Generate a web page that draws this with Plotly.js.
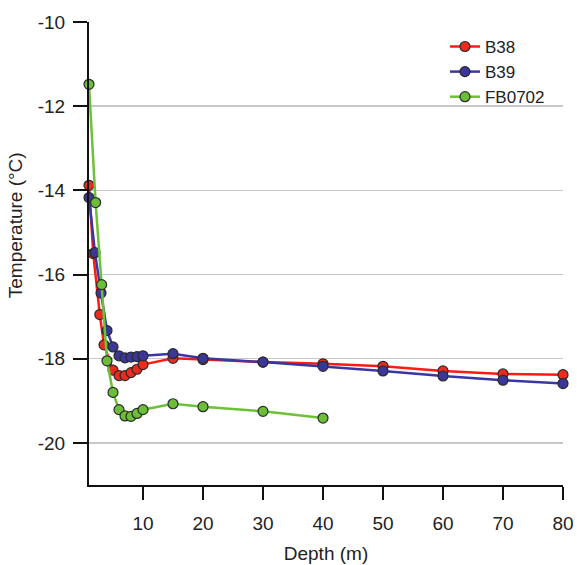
<!DOCTYPE html>
<html>
<head>
<meta charset="utf-8">
<script src="https://cdn.plot.ly/plotly-3.0.1.min.js"></script>
<style>html,body{margin:0;padding:0;background:#fff;}#chart{width:577px;height:565px;}</style>
</head>
<body>
<div id="chart"></div>
<script>
// Data
const depthB38 = [1, 1.7, 2.8, 3.5, 5, 6, 7, 8, 9, 10, 15, 20, 30, 40, 50, 60, 70, 80];
const tempB38  = [-13.88, -15.5, -16.95, -17.67, -18.27, -18.4, -18.4, -18.33, -18.25, -18.14, -17.99, -18.02, -18.08, -18.12, -18.18, -18.29, -18.36, -18.38];

const depthB39 = [1, 2, 3, 4, 5, 6, 7, 8, 9, 10, 15, 20, 30, 40, 50, 60, 70, 80];
const tempB39  = [-14.17, -15.48, -16.44, -17.33, -17.72, -17.93, -17.98, -17.96, -17.95, -17.93, -17.88, -17.99, -18.08, -18.18, -18.29, -18.41, -18.51, -18.59];

const depthFB0702 = [1, 2.1, 3.1, 4, 5, 6, 7, 8, 9, 10, 15, 20, 30, 40];
const tempFB0702  = [-11.48, -14.29, -16.24, -18.05, -18.8, -19.21, -19.36, -19.37, -19.3, -19.21, -19.07, -19.14, -19.25, -19.41];

const seriesNames = ["B38", "B39", "FB0702"];
const xTicks = [10, 20, 30, 40, 50, 60, 70, 80];
const yTicks = [-10, -12, -14, -16, -18, -20];

const FONT = "Liberation Sans, Arial, Helvetica, sans-serif";

function mk(name, x, y, lineColor, fillColor) {
  return {
    type: "scatter", mode: "lines+markers", name: name, x: x, y: y,
    line: {color: lineColor, width: 2.5},
    marker: {size: 10, color: fillColor, line: {color: "#2a2a2a", width: 1.2}},
    cliponaxis: false
  };
}

const traces = [
  mk(seriesNames[0], depthB38, tempB38, "#ff1a14", "#ee2a1e"),
  mk(seriesNames[1], depthB39, tempB39, "#3a36a4", "#3b3798"),
  mk(seriesNames[2], depthFB0702, tempFB0702, "#6cc236", "#6cbd38")
];

const layout = {
  width: 577, height: 565,
  margin: {l: 89, r: 14, t: 22, b: 80, pad: 0},
  paper_bgcolor: "#fff", plot_bgcolor: "#fff",
  font: {family: FONT, size: 19, color: "#222"},
  showlegend: true,
  legend: {x: 0.751, xanchor: "left", y: 0.985, yanchor: "top",
           bgcolor: "rgba(0,0,0,0)", font: {family: FONT, size: 17, color: "#222"},
           tracegroupgap: 0},
  xaxis: {
    range: [1, 80], tickvals: xTicks, ticktext: xTicks.map(String),
    showgrid: false, zeroline: false,
    showline: true, linecolor: "#111", linewidth: 2,
    ticks: "outside", ticklen: 13, tickwidth: 2, tickcolor: "#111",
    ticklabelstandoff: 7,
    tickfont: {family: FONT, size: 19, color: "#222"},
    title: {text: "Depth (m)", font: {family: FONT, size: 19, color: "#222"}, standoff: 14}
  },
  yaxis: {
    range: [-21, -10], tickvals: yTicks, ticktext: yTicks.map(String),
    showgrid: true, gridcolor: "#c8c8c8", gridwidth: 1.5,
    zeroline: false,
    showline: true, linecolor: "#111", linewidth: 2,
    ticks: "outside", ticklen: 14, tickwidth: 2, tickcolor: "#111",
    ticklabelstandoff: 4,
    tickfont: {family: FONT, size: 19, color: "#222"}
  },
  annotations: [{
    text: "Temperature (°C)", textangle: -90, showarrow: false,
    xref: "paper", yref: "paper", x: -0.155, y: 0.56,
    xanchor: "center", yanchor: "middle",
    font: {family: FONT, size: 19, color: "#222"}
  }]
};

Plotly.newPlot("chart", traces, layout, {displayModeBar: false, staticPlot: true});
</script>
</body>
</html>
